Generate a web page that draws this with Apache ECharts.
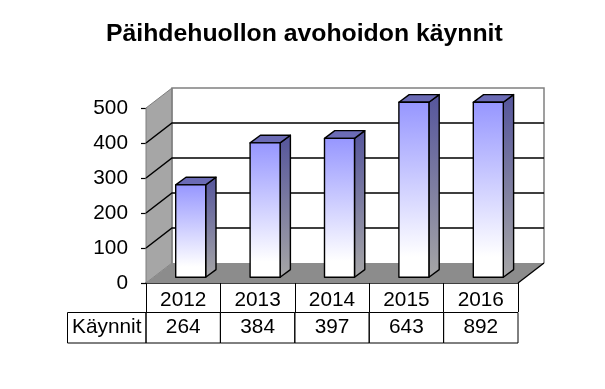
<!DOCTYPE html>
<html><head><meta charset="utf-8">
<style>html,body{margin:0;padding:0;background:#fff}#c{width:605px;height:389px}</style>
<script src="https://cdn.jsdelivr.net/npm/echarts@6/dist/echarts.min.js"></script>
</head><body><div id="c"></div>
<script>
const titleText = 'Päihdehuollon avohoidon käynnit';
const categories = ['2012','2013','2014','2015','2016'];
const seriesName = 'Käynnit';
const visits = [264,384,397,643,892];
const yTicks = [0,100,200,300,400,500];
const yMax = 500;
const FONT = '"Liberation Sans", Arial, sans-serif';
const LABEL_SIZE = 20.8;
const WD = 26, WH = 20;          // wall depth
const BD = 10.3, BH = 7.7;       // bar depth
const BW = 30, BX = 7.5, BY = 5.7;
const LINE = '#000';

const chart = echarts.init(document.getElementById('c'), null, {renderer:'canvas'});
const grad = (a,b,stopA) => new echarts.graphic.LinearGradient(0,0,0,1,[
  {offset:0,color:a},{offset:stopA===undefined?1:stopA,color:b},{offset:1,color:b}]);

chart.setOption({
  animation:false,
  backgroundColor:'#fff',
  title:{text:titleText,left:101,top:17,itemGap:0,
    textStyle:{fontFamily:FONT,fontSize:24.8,fontWeight:'bold',color:'#000'}},
  grid:{left:146,top:108,width:372,height:175,containLabel:false},
  xAxis:{type:'category',data:categories,
    axisLine:{show:true,lineStyle:{color:LINE,width:1.5}},
    axisTick:{show:true,length:29,lineStyle:{color:LINE,width:1}},
    axisLabel:{margin:7,fontFamily:FONT,fontSize:LABEL_SIZE,color:'#000'},
    splitLine:{show:false}},
  yAxis:{type:'value',min:0,max:yMax,interval:100,
    axisLine:{show:true,lineStyle:{color:'#333',width:1}},
    axisTick:{show:true,length:5,lineStyle:{color:LINE,width:1.2}},
    axisLabel:{margin:18,fontFamily:FONT,fontSize:LABEL_SIZE,color:'#000',
      formatter:v=>String(v)},
    splitLine:{show:false}},
  series:[
    { // walls and floor
      type:'custom',coordinateSystem:'cartesian2d',silent:true,z:1,clip:false,
      data:[[0,0]],
      renderItem(params){
        const c=params.coordSys,l=c.x,r=c.x+c.width,t=c.y,b=c.y+c.height;
        return {type:'group',children:[
          {type:'polygon',shape:{points:[[l,t],[l+WD,t-WH],[l+WD,b-WH],[l,b]]},
            style:{fill:'#a6a6a6',stroke:'#7f7f7f',lineWidth:1}},
          {type:'polygon',shape:{points:[[l,b],[l+WD,b-WH],[r+WD,b-WH],[r,b]]},
            style:{fill:'#8c8c8c'}},
          {type:'polyline',shape:{points:[[l+WD,b-WH],[l+WD,t-WH],[r+WD,t-WH],[r+WD,b-WH]]},
            style:{fill:'none',stroke:'#808080',lineWidth:1.5}},
          {type:'line',shape:{x1:r,y1:b,x2:r+WD,y2:b-WH},style:{stroke:LINE,lineWidth:1.3}}
        ]};
      }
    },
    { // gridlines, wrapping round the wall
      type:'custom',coordinateSystem:'cartesian2d',silent:true,z:2,clip:false,
      data:yTicks.filter(v=>v>0&&v<yMax).map(v=>[0,v]),
      renderItem(params,api){
        const c=params.coordSys,l=c.x,r=c.x+c.width;
        const y=api.coord([0,api.value(1)])[1];
        return {type:'polyline',shape:{points:[[l,y],[l+WD,y-WH],[r+WD,y-WH]]},
          style:{fill:'none',stroke:LINE,lineWidth:1.5}};
      }
    },
    { // 3D bars, cut off at the axis maximum
      type:'custom',coordinateSystem:'cartesian2d',silent:true,z:3,clip:false,
      data:visits.map((v,i)=>[i,Math.min(v,yMax)]),
      renderItem(params,api){
        const p=api.coord([api.value(0),api.value(1)]);
        const p0=api.coord([api.value(0),0]);
        const x0=p[0]+BX-BW/2, x1=x0+BW, yT=p[1]-BY, yB=p0[1]-BY;
        const st={stroke:LINE,lineWidth:1.4,lineJoin:'round'};
        return {type:'group',children:[
          {type:'polygon',shape:{points:[[x1,yT],[x1+BD,yT-BH],[x1+BD,yB-BH],[x1,yB]]},
            style:{fill:grad('#55559c','#a6a6a6'),...st}},
          {type:'polygon',shape:{points:[[x0,yT],[x0+BD,yT-BH],[x1+BD,yT-BH],[x1,yT]]},
            style:{fill:'#6b6bb5',...st}},
          {type:'rect',shape:{x:x0,y:yT,width:BW,height:yB-yT},
            style:{fill:grad('#9696ff','#ffffff',0.88),...st}}
        ]};
      }
    },
    { // data-table row under the axis
      type:'custom',coordinateSystem:'cartesian2d',silent:true,z:4,clip:false,
      data:visits.map((v,i)=>[i,0,v]),
      renderItem(params,api){
        const c=params.coordSys;
        const cx=api.coord([api.value(0),0])[0];
        const w=api.size([1,0])[0];
        const top=312.5, h=30.5;
        const kids=[
          {type:'rect',shape:{x:cx-w/2,y:top,width:w,height:h},style:{fill:'none',stroke:LINE,lineWidth:1}},
          {type:'text',style:{text:String(api.value(2)),x:cx,y:top+h/2,textAlign:'center',textVerticalAlign:'middle',
            font:LABEL_SIZE+'px '+FONT,fill:'#000'}}
        ];
        if(api.value(0)===0){
          kids.push(
            {type:'rect',shape:{x:67.5,y:top,width:c.x-67.5,height:h},style:{fill:'none',stroke:LINE,lineWidth:1}},
            {type:'text',style:{text:seriesName,x:(67.5+c.x)/2,y:top+h/2,textAlign:'center',textVerticalAlign:'middle',
              font:LABEL_SIZE+'px '+FONT,fill:'#000'}}
          );
        }
        return {type:'group',children:kids};
      }
    }
  ]
});
</script></body></html>
